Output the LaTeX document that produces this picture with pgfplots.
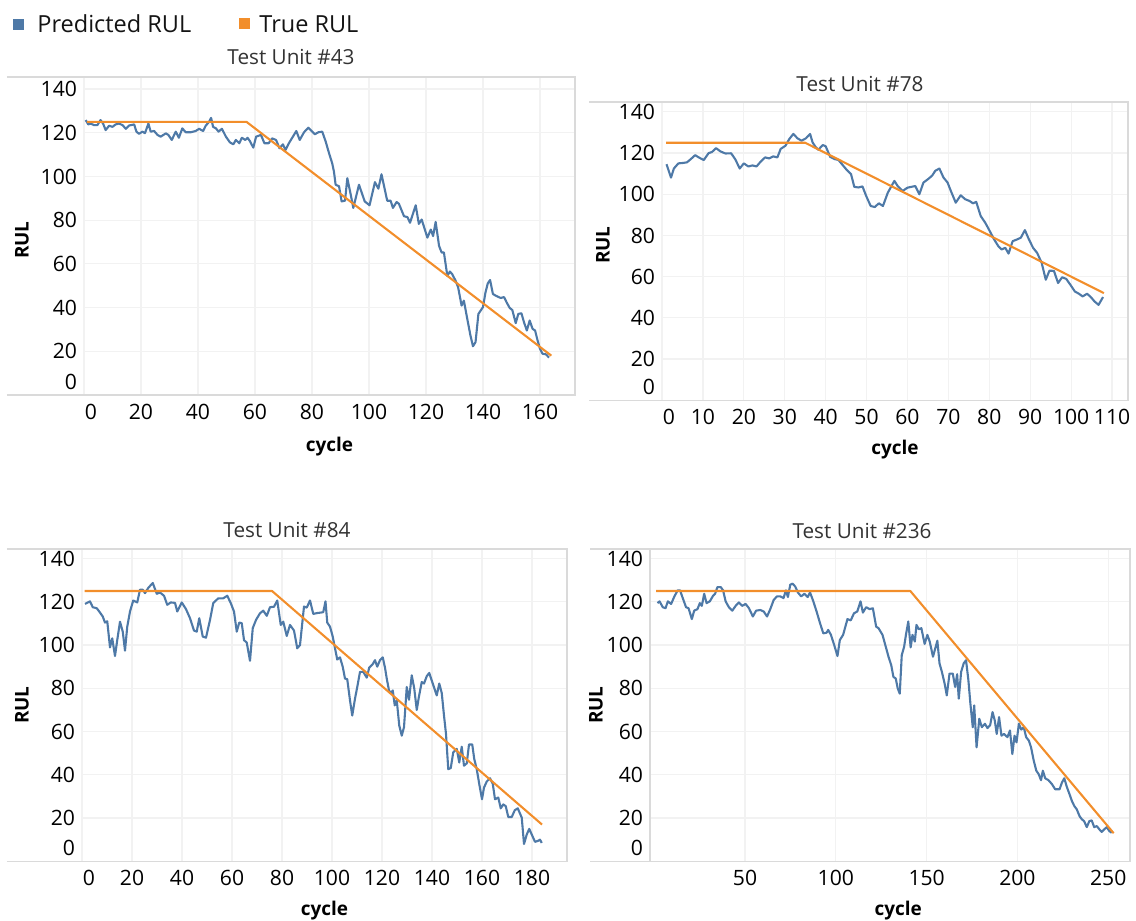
\documentclass[border=0pt]{standalone}
\usepackage{fontspec}
\setmainfont{Open Sans}
\usepackage{pgfplots}
\pgfplotsset{compat=1.18}
\definecolor{predblue}{HTML}{4E79A7}
\definecolor{trueorange}{HTML}{F28E2B}
\definecolor{gridc}{HTML}{F2F2F2}
\definecolor{axisc}{HTML}{DADADA}
\definecolor{titlec}{HTML}{333333}
\tikzset{
  pred/.style={draw=predblue, line width=1.05bp, line join=round, mark=none},
  truel/.style={draw=trueorange, line width=1.05bp, line join=round, mark=none},
}
\pgfplotsset{
  panel/.style={
    scale only axis, anchor=south west, clip=false,
    axis line style={draw=axisc, line width=0.6bp},
    xmajorgrids, ymajorgrids,
    major grid style={draw=gridc, line width=0.6bp},
    major tick length=0pt,
    tick style={draw=none},
    tick label style={font=\fontsize{10.6}{12}\selectfont, text=black},
    /pgf/number format/assume math mode=true,
    xticklabel style={yshift=-1bp},
    label style={font=\bfseries\fontsize{9.5}{11}\selectfont, text=black},
    xlabel style={anchor=center},
    ylabel style={anchor=center},
    ymin=0,
    ytick={20,40,...,140},
    extra y ticks={0},
    extra y tick style={yticklabel style={yshift=6.5bp}},
    xlabel={cycle}, ylabel={RUL},
  }
}
\begin{document}
\begin{tikzpicture}
\useasboundingbox (0,0) rectangle (568bp,-460.5bp);
% legend
\fill[predblue] (6.65bp,-9.35bp) rectangle (12.15bp,-14.85bp);
\node[anchor=base west, inner sep=0, font=\fontsize{11.8}{13}\selectfont, text=black!92] at (18.5bp,-16.35bp) {Predicted RUL};
\fill[trueorange] (119.25bp,-9bp) rectangle (124.75bp,-14.5bp);
\node[anchor=base west, inner sep=0, font=\fontsize{11.8}{13}\selectfont, text=black!92] at (129.5bp,-16.35bp) {True RUL};
% titles
\node[anchor=base, inner sep=0, font=\fontsize{10.4}{12}\selectfont, text=titlec] at (145.5bp,-32bp) {Test Unit \#43};
\node[anchor=base, inner sep=0, font=\fontsize{10.4}{12}\selectfont, text=titlec] at (430bp,-45.5bp) {Test Unit \#78};
\node[anchor=base, inner sep=0, font=\fontsize{10.4}{12}\selectfont, text=titlec] at (143.5bp,-268.5bp) {Test Unit \#84};
\node[anchor=base, inner sep=0, font=\fontsize{10.4}{12}\selectfont, text=titlec] at (431bp,-269bp) {Test Unit \#236};

% ---------------- Unit 43
\begin{axis}[panel, at={(42bp,-197.5bp)}, width=245.5bp, height=159bp,
  xmin=0, xmax=172.3, ymax=145.5,
  xtick={20,40,...,160}, extra x ticks={0},
  extra x tick style={xticklabel style={xshift=3.5bp}},
  xlabel style={at={(axis description cs:0.5,-0.1635)}},
  ylabel style={at={(axis description cs:-0.1263,0.487)}}]
\draw[axisc, line width=0.6bp] ([xshift=-38.5bp]rel axis cs:0,1) -- (rel axis cs:1,1);
\draw[axisc, line width=0.6bp] ([xshift=-38.5bp]rel axis cs:0,0) -- (rel axis cs:1,0);
\addplot[pred] coordinates {(0.6,125.8)(1.5,123.8)(2.3,124.2)(3.5,123.5)(4.7,123.5)(5.8,125.8)(6.7,124.2)(7.6,121.2)(8.8,123.2)(10,122.7)(11.1,123.8)(12.3,124.2)(13.5,123.5)(14.7,121.8)(15.8,123.3)(17.6,123.8)(18.4,120.5)(19.3,119.5)(20.5,120.5)(21.4,119.8)(22.6,124.2)(23.4,120.5)(24.6,120.8)(25.8,119)(26.9,118.2)(28.7,119.7)(29.6,119)(30.8,116.7)(32.2,120.5)(33.3,117.7)(34.5,122)(35.7,120.2)(37.4,120.2)(39.2,120.8)(40.4,121.8)(41.8,120.8)(42.7,123.2)(43.9,125)(44.6,126.8)(45.3,122.7)(46.3,122)(47.2,120.5)(48.4,121.8)(49.8,118.2)(51.2,115.6)(52.4,114.7)(53.3,116.7)(54.5,115.2)(55.4,117.7)(56.6,116.7)(57.4,117.7)(58.2,116.2)(59.4,113.2)(60.4,118.2)(62.1,119)(63.3,115.2)(64.8,115.2)(66,117.4)(67.4,116.7)(68.6,112.9)(69.8,114.7)(70.7,112.1)(71.9,115.2)(73.3,118.2)(74.5,120.8)(75.7,116.7)(77.2,120.2)(78.7,122.3)(79.9,120.8)(81,119.3)(82.2,120.2)(83.6,120.5)(84.8,116)(86,110.6)(87.1,106)(87.7,102.3)(88.3,96.2)(89.5,95.5)(90.4,88.6)(91.6,88.9)(92.4,99.2)(93.6,91.7)(94.5,85.6)(96.5,96.2)(98.5,88.6)(100.2,86.8)(102.1,97.4)(103.3,94.4)(104.4,101)(106.4,88.9)(107.6,88.9)(108.4,85.6)(109.7,88.3)(110.5,87.5)(112.3,81.8)(113.5,81.4)(114.4,78.8)(116.4,86.8)(117.5,78.3)(118.5,80.3)(120.5,72)(121.7,75.7)(122.5,72.7)(123.4,79.2)(124.6,68.2)(125.5,65.2)(126.3,65.2)(127.5,54.5)(128.4,56.5)(129.2,55.3)(130.4,52.3)(131.3,49.2)(132.5,40.9)(133.3,43.2)(134.5,34.8)(135.6,27.3)(136.5,22.3)(137.4,24.2)(138.4,37.1)(140,40.2)(140.9,47)(141.7,51.1)(142.5,52.6)(143.5,46.2)(144.4,45.5)(146.2,44.4)(147.4,44.8)(148.3,42.4)(149.4,39.8)(150.3,38.9)(151.5,32.9)(152.4,37.1)(153.5,37.4)(154.4,33.3)(155.4,29.5)(156.4,34.1)(157.4,30.3)(158.3,29.5)(159.1,25.3)(160,21.2)(160.9,18.9)(162.1,18.6)(163.2,17.1)};
\addplot[truel] coordinates {(1,125)(57,125)(164,18)};
\end{axis}

% ---------------- Unit 78
\begin{axis}[panel, at={(331bp,-200.1bp)}, width=233bp, height=149.1bp,
  xmin=0, xmax=113.9, ymax=144.8,
  xtick={10,20,...,110}, extra x ticks={0},
  extra x tick style={xticklabel style={xshift=3.5bp}},
  xlabel style={at={(axis description cs:0.5,-0.1644)}},
  ylabel style={at={(axis description cs:-0.1269,0.52)}}]
\draw[axisc, line width=0.6bp] ([xshift=-36.5bp]rel axis cs:0,1) -- (rel axis cs:1,1);
\draw[axisc, line width=0.6bp] ([xshift=-36.5bp]rel axis cs:0,0) -- (rel axis cs:1,0);
\addplot[pred] coordinates {(1.1,114.6)(2.2,108.1)(2.9,112.5)(4,115)(5.1,115.2)(6.1,115.5)(7,117)(8.1,119)(8.9,118)(10.2,116.6)(11.4,120)(12.2,120.5)(13.2,122.4)(14.3,120.8)(15.5,119.8)(16.9,119.9)(17.9,117)(19,112.5)(20,115)(21.1,113.5)(22.1,114)(23.1,113.5)(24.1,115.8)(25.2,117.9)(26.2,117.4)(27.2,118.4)(28.2,117.9)(29,122)(30.2,123.6)(31.1,126.8)(32.1,129.3)(33.1,127.2)(34.1,126)(35.2,127.2)(36.2,129.3)(36.8,125.2)(37.6,122.8)(38.2,121.6)(39.3,123.9)(40,123.3)(41.1,118.2)(42.3,117)(43.1,116.7)(44.2,114.1)(45.2,111.7)(46.2,109.8)(47,103.6)(48,103.3)(49,103.8)(49.9,99.2)(51,94.3)(52,93.8)(53,95.6)(54,94.3)(55.2,100.8)(56.8,106.5)(57.6,104)(58.8,101.6)(60,103.2)(61.9,104)(62.9,100)(63.9,105.7)(65,107.3)(66,109)(66.8,111.4)(67.8,112.5)(68.8,108.1)(69.8,105.7)(70.6,101.6)(71.8,95.9)(73,99.5)(74.1,97.6)(75.2,96.7)(76,95.6)(76.8,96.3)(77.9,89.4)(79,86.2)(79.9,82.9)(81.2,78)(82.2,74.8)(83,73.2)(83.9,74)(84.7,71.2)(85.7,77.2)(86.7,78)(87.7,78.9)(88.7,82.6)(89.7,78)(90.7,74)(91.7,71.5)(92.8,66.7)(93.8,58.5)(94.7,62.9)(95.8,62.8)(96.8,56.9)(97.8,59.7)(98.8,58.9)(99.8,56.1)(100.9,52.8)(101.9,51.7)(102.8,50.4)(103.9,51.7)(104.8,50.1)(105.7,48)(106.7,46.3)(107.8,50.1)};
\addplot[truel] coordinates {(1,125)(35,125)(108,52)};
\end{axis}

% ---------------- Unit 84
\begin{axis}[panel, at={(41bp,-430.65bp)}, width=242.5bp, height=156.15bp,
  xmin=0, xmax=194, ymax=144.4,
  xtick={20,40,...,180}, extra x ticks={0},
  extra x tick style={xticklabel style={xshift=3.5bp}},
  xlabel style={at={(axis description cs:0.5,-0.157)}},
  ylabel style={at={(axis description cs:-0.1237,0.5)}}]
\draw[axisc, line width=0.6bp] ([xshift=-37.5bp]rel axis cs:0,1) -- (rel axis cs:1,1);
\draw[axisc, line width=0.6bp] ([xshift=-37.5bp]rel axis cs:0,0) -- (rel axis cs:1,0);
\addplot[pred] coordinates {(1.2,119)(3.2,120.2)(4.3,117.5)(5.9,117)(6.9,115.5)(8.3,113.2)(9.2,110.4)(10.1,111)(11.2,98.9)(12.1,103.1)(13.2,94.9)(14.1,102.3)(15.2,110.8)(16.3,106.2)(17.2,97.4)(18.1,108.5)(19.2,115.5)(20.5,120.6)(22.1,119.7)(23.2,125.6)(24.3,125.6)(25.2,124)(26.5,126.4)(28.3,128.7)(29.9,123.7)(31.2,124.3)(32.8,122.8)(34.1,118.6)(35.5,119.7)(37.2,119.5)(38.1,115.5)(39.9,119.7)(41.6,116.6)(43.2,112.4)(44.8,106.7)(45.9,106.2)(46.9,112.4)(48.3,103.9)(49.6,103.4)(51.2,111.6)(52.5,119.4)(54.5,121.6)(56.5,121.6)(58.1,122.8)(59.5,119.4)(60.8,115.5)(61.9,106.2)(62.9,110.4)(63.9,110.1)(64.8,102.3)(65.9,101.1)(67.2,92.7)(68.3,107.8)(69.6,111.6)(71.2,114.7)(72.5,115.9)(73.9,113.5)(75.2,117.5)(76.8,117.7)(78.1,120.6)(79.5,109.3)(80.5,110.8)(81.9,104.2)(83.2,109.3)(84.8,106.7)(86.1,98.5)(87.2,100)(88.8,117.8)(89.9,117.3)(91.2,120.6)(92.5,114.4)(94.1,114.8)(95.5,115)(96.5,115.2)(97.4,120.2)(98.1,110.4)(99.2,108.5)(100.3,103.9)(101.2,98.5)(102.1,93.3)(103.2,94.3)(104.3,89.9)(105.2,84.5)(106.1,84.2)(107.2,74.4)(108.1,67.4)(109.2,75.2)(110.1,80.6)(111.2,87.6)(112.5,87.6)(113.9,84.9)(114.9,89.6)(116.3,91.2)(117.2,93)(118.1,90)(119.2,93)(120.3,94.3)(121.2,89.5)(121.9,84.5)(122.8,79)(123.6,77.8)(124.3,79)(125.1,72.1)(125.9,74.4)(126.9,62.8)(127.9,58.1)(128.8,62)(129.9,80.6)(130.8,74.7)(131.9,86)(132.9,79.9)(133.9,70)(134.8,76.3)(135.9,82.9)(136.8,82.2)(137.9,85.6)(138.9,87.1)(140.3,82.2)(141.9,76.7)(142.9,82.2)(143.9,77.8)(144.8,67.4)(145.6,58.9)(146.5,42.6)(147.5,43.1)(148.5,50.4)(149.9,52)(150.9,45.7)(151.9,53)(152.8,44.2)(153.9,45.3)(154.8,54)(156.1,54)(156.9,47.3)(157.9,42.6)(158.9,35.7)(160,28.7)(160.8,34.1)(161.9,36.9)(163.2,38.4)(164.3,35.9)(165.2,28.7)(166.5,29.5)(167.5,24.5)(168.5,26.3)(169.5,25.5)(170.5,20.5)(171.9,20.5)(173.1,23.6)(174.3,24.5)(175.9,20.2)(176.8,8)(177.9,12.4)(178.9,15)(179.9,12.4)(181.2,9)(182.5,9.5)(183.2,10)(183.9,8.5)};
\addplot[truel] coordinates {(1,125)(76,125)(184,17)};
\end{axis}

% ---------------- Unit 236
\begin{axis}[panel, at={(325bp,-430.65bp)}, width=240bp, height=156.15bp,
  xmin=-2.34, xmax=262, ymax=144.4,
  xtick={50,100,...,250},
  xlabel style={at={(axis description cs:0.517,-0.157)}},
  ylabel style={at={(axis description cs:-0.1125,0.5)}}]
\draw[axisc, line width=0.6bp] ([xshift=-30bp]rel axis cs:0,1) -- (rel axis cs:1,1);
\draw[axisc, line width=0.6bp] ([xshift=-30bp]rel axis cs:0,0) -- (rel axis cs:1,0);
\addplot[pred] coordinates {(1.8,119.4)(2.9,120.2)(4.7,117.5)(6.2,117)(7.5,120.2)(9.3,119)(11.1,122.5)(12.9,125.3)(14.2,125.3)(15.7,121.7)(17.5,117.5)(18.9,117)(20.7,112)(22,115.9)(23.8,116.6)(25.1,119.4)(26.2,118.1)(27.5,123.7)(28.8,119.4)(30.6,120.2)(32.4,122.8)(33.5,123.7)(34.8,126.8)(36.6,126.8)(37.9,125.3)(39.3,120.2)(41.1,117.5)(43,115.9)(44.8,118.1)(46.6,119.7)(48.4,118.1)(50.3,119)(52.1,117.1)(54.3,113.2)(56.1,115.9)(58.4,116.2)(60.3,115.5)(62.1,113.2)(63.9,116.6)(65.8,120.9)(67.6,122.5)(69.4,122.5)(71.2,121.7)(72.5,125.3)(73.6,122.2)(74.9,127.9)(76.1,128.4)(77.6,127.1)(79.1,124.3)(80.9,122.5)(82.7,123.7)(84.5,122.2)(85.8,124.3)(87.6,120.2)(89.4,115.5)(91.3,110.1)(93.1,105.4)(94.9,105.7)(95.8,107)(97.3,104.7)(99.1,100)(100.9,94.9)(102.2,102.3)(104,104.7)(106.4,112)(108.2,111.4)(110,114.7)(111.8,115.5)(113.6,120.2)(114.9,115)(116.7,117.5)(118.6,116.6)(120.4,117)(122.2,108.5)(123.5,107.8)(125.7,104.7)(127.5,99.2)(129,94.6)(130.5,90.7)(131.7,85.3)(133,84.5)(134.1,79.9)(135.2,77.5)(136.3,95.3)(137.6,99.2)(138.6,104.7)(139.9,110.9)(141.2,98.9)(142.2,104.7)(143.5,101.6)(144.4,109.3)(145.7,107.3)(147.1,107.8)(148.9,100.5)(150.4,104.7)(151.7,101.6)(153.5,94.6)(155.9,102)(157.1,91.5)(158.4,87.6)(159.9,82.2)(161.1,76.7)(162.6,86.8)(164.4,86.8)(165.7,80.6)(166.8,86.5)(167.7,75.2)(169,87.6)(170.4,91.5)(171.7,93)(173,83.7)(174.1,72.9)(175.4,62)(176.2,72.1)(177.5,52.7)(179,65.9)(180.4,62)(182.1,63.6)(183.5,61.6)(185,63)(186.3,69)(187.5,65.2)(188.6,58.9)(189.9,66.7)(191.2,58.1)(192.6,58.9)(194.5,57.4)(195.9,60.5)(197.2,49.6)(198.4,58.1)(199.5,55)(200.8,63.6)(202.1,60.9)(203.5,62)(204.8,57.4)(206.3,55.8)(207.5,52.7)(209,46.5)(210.4,41.9)(211.7,40.3)(213,37.5)(214,41.9)(215.3,38.4)(217.1,37.5)(219,35.7)(220.8,33.3)(223.2,33.3)(224.5,36.4)(225.8,38.4)(227.2,34.4)(228.7,31)(230,27.9)(231.3,25.6)(232.7,24)(234.2,20.9)(235.5,19.4)(236.7,18.6)(238.2,15.8)(239.6,18.6)(240.9,18.9)(242.3,15.8)(243.7,16.3)(245.2,14.7)(246.4,13.6)(247.7,14.7)(249.2,15.8)(250.6,14)(251.9,13.2)};
\addplot[truel] coordinates {(1,125)(141,125)(253,13)};
\end{axis}
\end{tikzpicture}
\end{document}
